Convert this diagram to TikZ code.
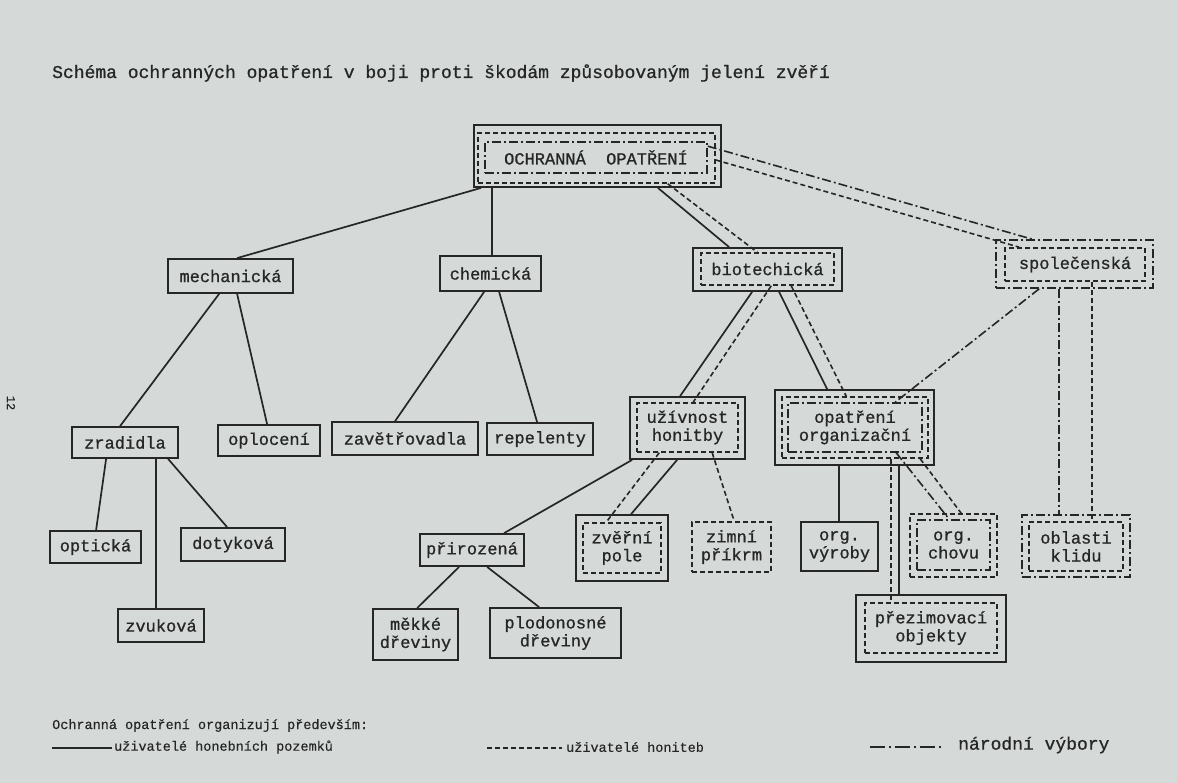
\documentclass[tikz,border=0pt]{standalone}
\usepackage{fontspec}
\setmainfont{Liberation Mono}
\newfontfamily\twb{Liberation Mono}[FakeBold=0.9]
\newfontfamily\twl{Liberation Mono}[FakeBold=0.4]
\usetikzlibrary{calc}
\definecolor{paper}{RGB}{213,218,217}
\definecolor{ink}{RGB}{38,38,38}
\begin{document}
\begin{tikzpicture}[x=1pt,y=-1pt,
  every node/.style={inner sep=0pt, text=ink, font=\twb\fontsize{17}{18}\selectfont, align=center},
  fr/.style 2 args={minimum width=#1pt, minimum height=#2pt},
  sbox/.style={draw=ink, line width=1.8pt},
  dbox/.style={draw=ink, line width=1.6pt, dash pattern=on 5pt off 3pt},
  ddbox/.style={draw=ink, line width=1.6pt, dash pattern=on 9pt off 3pt on 2pt off 3pt},
  sl/.style={draw=ink, line width=1.7pt},
  dl/.style={draw=ink, line width=1.6pt, dash pattern=on 5pt off 3pt},
  ddl/.style={draw=ink, line width=1.6pt, dash pattern=on 9pt off 3pt on 2pt off 3pt},
  lgd/.style={font=\twl\fontsize{13.5}{15}\selectfont}
]
\fill[paper] (0,0) rectangle (1177,783);
\useasboundingbox (0,0) rectangle (1177,783);

% title
\node[anchor=base west, font=\twb\fontsize{18}{18}\selectfont] (title) at (52,78) {Schéma ochranných opatření v boji proti škodám způsobovaným jelení zvěří};
\node[rotate=-90, font=\twl\fontsize{12}{12}\selectfont] (pg) at (11,403) {12};

% level 0
\node[sbox, fr={247}{62}] (oo) at (597.5,156) {};
\node[dbox, fr={237}{50}] (ood) at (596.5,158) {};
\node[ddbox, fr={222}{31}] (oodd) at (596,157.5) {OCHRANNÁ\ \ OPATŘENÍ};

% level 1
\node[sbox, fr={125}{34}] (mech) at (230.5,276) {mechanická};
\node[sbox, fr={101}{35}] (chem) at (490.5,273.5) {chemická};
\node[sbox, fr={149}{43}] (bio) at (767.5,269.5) {};
\node[dbox, fr={133}{32}] (biod) at (767.5,269) {biotechická};
\node[ddbox, fr={157}{48}] (spol) at (1074.5,264) {};
\node[dbox, fr={140}{33}] (spold) at (1075,264.5) {společenská};

% level 2
\node[sbox, fr={106}{31}] (zrad) at (125,442.5) {zradidla};
\node[sbox, fr={102}{31}] (oplo) at (269,440.5) {oplocení};
\node[sbox, fr={146}{33}] (zave) at (405,438.5) {zavětřovadla};
\node[sbox, fr={106}{32}] (repe) at (540,439) {repelenty};
\node[sbox, fr={115}{62}] (uziv) at (687.5,428) {};
\node[dbox, fr={101}{49}] (uzivd) at (687.5,427.5) {užívnost\\honitby};
\node[sbox, fr={159}{75}] (opor) at (854.5,427.5) {};
\node[dbox, fr={146}{61}] (opord) at (855,427.5) {};
\node[ddbox, fr={134}{49}] (opordd) at (855,427.5) {opatření\\organizační};

% level 3
\node[sbox, fr={91}{32}] (opti) at (95.5,547) {optická};
\node[sbox, fr={104}{33}] (doty) at (233,544.5) {dotyková};
\node[sbox, fr={86}{33}] (zvuk) at (161,625.5) {zvuková};
\node[sbox, fr={104}{32}] (priro) at (472,550) {přirozená};
\node[sbox, fr={92}{66}] (zvp) at (622,548) {};
\node[dbox, fr={78}{50}] (zvpd) at (622,548) {zvěřní\\pole};
\node[dbox, fr={79}{50}] (zimn) at (731.5,547) {zimní\\příkrm};
\node[sbox, fr={77}{49}] (orgv) at (839.5,546.5) {org.\\výroby};
\node[dbox, fr={87}{63}] (orgch) at (953.5,545.5) {};
\node[ddbox, fr={73}{50}] (orgchdd) at (953.5,545) {org.\\chovu};
\node[ddbox, fr={108}{62}] (obla) at (1076,546) {};
\node[dbox, fr={94}{49}] (oblad) at (1076,546.5) {oblasti\\klidu};
\node[sbox, fr={150}{67}] (prez) at (931,628.5) {};
\node[dbox, fr={132}{50}] (prezd) at (931,628) {přezimovací\\objekty};
\node[sbox, fr={85}{51}] (mekk) at (415.5,634.5) {měkké\\dřeviny};
\node[sbox, fr={131}{50}] (plod) at (555.5,633) {plodonosné\\dřeviny};

% connectors from OCHRANNÁ OPATŘENÍ
\draw[sl] ([xshift=8pt]oo.south west) -- ([xshift=70pt]mech.north west);
\draw[sl] ([xshift=19pt]oo.south west) -- ([xshift=53pt]chem.north west);
\draw[sl] ([xshift=-64pt]oo.south east) -- ([xshift=37pt]bio.north west);
\draw[dl] ([xshift=-48pt]ood.south east) -- ([xshift=57pt]biod.north west);
\draw[ddl] ([yshift=-5pt]oodd.north east) -- ([xshift=37pt]spol.north west);
\draw[dl] ([yshift=-2pt]ood.east) -- ([xshift=15pt]spold.north west);

% mechanická, chemická
\draw[sl] ([xshift=52pt]mech.south west) -- ([xshift=49pt]zrad.north west);
\draw[sl] ([xshift=70pt]mech.south west) -- ([xshift=50pt]oplo.north west);
\draw[sl] ([xshift=45pt]chem.south west) -- ([xshift=64pt]zave.north west);
\draw[sl] ([xshift=60pt]chem.south west) -- ([xshift=51pt]repe.north west);

% biotechická
\draw[sl] ([xshift=60pt]bio.south west) -- ([xshift=51pt]uziv.north west);
\draw[dl] ([xshift=71pt]biod.south west) -- ([xshift=57pt]uzivd.north west);
\draw[sl] ([xshift=87pt]bio.south west) -- ([xshift=53pt]opor.north west);
\draw[dl] ([xshift=91pt]biod.south west) -- ([xshift=65pt]opord.north west);

% společenská
\draw[ddl] ([xshift=44pt]spol.south west) -- ([xshift=108pt]opordd.north west);
\draw[ddl] ([xshift=64pt]spol.south west) -- ([xshift=38pt]obla.north west);
\draw[dl] ([xshift=88pt]spold.south west) -- ([xshift=64pt]oblad.north west);

% zradidla
\draw[sl] ([xshift=35pt]zrad.south west) -- ([xshift=47pt]opti.north west);
\draw[sl] ([xshift=85pt]zrad.south west) -- ([xshift=39pt]zvuk.north west);
\draw[sl] ([xshift=97pt]zrad.south west) -- ([xshift=47pt]doty.north west);

% užívnost honitby
\draw[sl] ([xshift=3pt]uziv.south west) -- ([xshift=85pt]priro.north west);
\draw[dl] ([xshift=23pt]uzivd.south west) -- ([xshift=24pt]zvpd.north west);
\draw[sl] ([xshift=48pt]uziv.south west) -- ([xshift=56pt]zvp.north west);
\draw[dl] ([xshift=76pt]uzivd.south west) -- ([xshift=43pt]zimn.north west);

% přirozená
\draw[sl] ([xshift=40pt]priro.south west) -- ([xshift=45pt]mekk.north west);
\draw[sl] ([xshift=68pt]priro.south west) -- ([xshift=50pt]plod.north west);

% opatření organizační
\draw[sl] ([xshift=65pt]opor.south west) -- ([xshift=39pt]orgv.north west);
\draw[dl] ([xshift=110pt]opord.south west) -- ([xshift=27pt]prezd.north west);
\draw[sl] ([xshift=125pt]opor.south west) -- ([xshift=44pt]prez.north west);
\draw[ddl] ([xshift=109pt]opordd.south west) -- ([xshift=33pt]orgchdd.north west);
\draw[dl] ([xshift=139pt]opord.south west) -- ([xshift=52pt]orgch.north west);

% legend
\node[lgd, anchor=base west] (lgh) at (52,729) {Ochranná opatření organizují především:};
\coordinate (l1a) at (52,748);
\coordinate (l1b) at (112,748);
\draw[sl] (l1a) -- (l1b);
\node[lgd, anchor=west] (lt1) at (114,747) {uživatelé honebních pozemků};
\coordinate (l2a) at (487,748);
\coordinate (l2b) at (562,748);
\draw[dl] (l2a) -- (l2b);
\node[lgd, anchor=west] (lt2) at (566,747) {uživatelé honiteb};
\coordinate (l3a) at (870,747);
\coordinate (l3b) at (942,747);
\draw[ddl, dash pattern=on 15pt off 4pt on 2pt off 4pt] (l3a) -- (l3b);
\node[anchor=west, font=\twb\fontsize{18}{18}\selectfont] (lt3) at (958,745) {národní výbory};
\end{tikzpicture}
\end{document}
